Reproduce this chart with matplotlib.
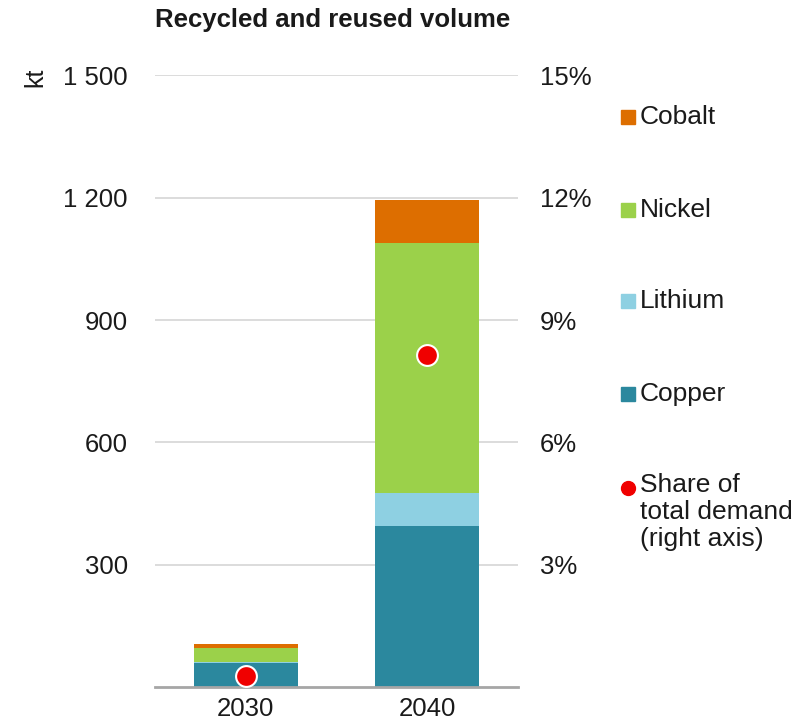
"""Recycled and reused volume — stacked bars with share of total demand on right axis."""
import numpy as np
import matplotlib
matplotlib.use("Agg")
import matplotlib.pyplot as plt
from matplotlib.patches import Rectangle
from matplotlib.lines import Line2D

plt.rcParams["font.family"] = ["Liberation Sans", "DejaVu Sans"]

years = ["2030", "2040"]
copper = [59, 395]
lithium = [2, 82]
nickel = [35, 611]
cobalt = [9, 107]
share_pct = [0.28, 8.14]

left_ticks = [300, 600, 900, 1200, 1500]
right_ticks = [3, 6, 9, 12, 15]

SERIES = [("Copper", copper, "#2b889e"), ("Lithium", lithium, "#8ed0e2"),
          ("Nickel", nickel, "#9bd14a"), ("Cobalt", cobalt, "#dd6e00")]
RED = "#f00000"
TXT = "#1a1a1a"

fig = plt.figure(figsize=(8.07, 7.24), dpi=100)
ax = fig.add_axes([0.192, 0.051, 0.450, 0.845])

x = np.arange(len(years))
bottom = np.zeros(len(years))
for name, vals, col in SERIES:
    ax.bar(x, vals, width=0.573, bottom=bottom, color=col, edgecolor="none", zorder=3)
    bottom += np.array(vals)

ax.set_xlim(-0.5, 1.5)
ax.set_ylim(0, 1500)
ax.set_yticks(left_ticks)
ax.set_yticklabels([f"{v:,}".replace(",", " ") for v in left_ticks])
ax.set_xticks(x)
ax.set_xticklabels(years)
ax.grid(axis="y", color="#d9d9d9", linewidth=1.3, zorder=0)
for s in ["top", "right", "left"]:
    ax.spines[s].set_visible(False)
ax.spines["bottom"].set_color("#a6a6a6")
ax.spines["bottom"].set_linewidth(2)
ax.spines["bottom"].set_zorder(4)
ax.tick_params(axis="both", length=0, labelsize=18.5, colors=TXT)
ax.tick_params(axis="y", pad=19.5)
ax.tick_params(axis="x", pad=7.5)

ax2 = ax.twinx()
ax2.set_ylim(0, 15)
ax2.set_yticks(right_ticks)
ax2.set_yticklabels([f"{v}%" for v in right_ticks])
ax2.tick_params(axis="y", length=0, labelsize=18.5, colors=TXT, pad=15.5)
for s in ax2.spines.values():
    s.set_visible(False)
ax2.plot(x, share_pct, linestyle="none", marker="o", markersize=15,
         markerfacecolor=RED, markeredgecolor="white", markeredgewidth=1.5, zorder=5)

fig.text(0.412, 0.972, "Recycled and reused volume", ha="center", va="center",
         fontsize=18.5, fontweight="bold", color=TXT)
fig.text(0.044, 0.893, "kt", rotation=90, ha="center", va="center", fontsize=18, color=TXT)

# legend drawn by hand to match spacing
legend_items = [("Cobalt", "#dd6e00", 117), ("Nickel", "#9bd14a", 210),
                ("Lithium", "#8ed0e2", 301), ("Copper", "#2b889e", 394)]
W, H = 807, 724
for label, col, py in legend_items:
    fig.patches.append(Rectangle((621 / W, 1 - (py + 7) / H), 14 / W, 14 / H,
                                 transform=fig.transFigure, color=col, zorder=5))
    fig.text(640 / W, 1 - py / H, label, ha="left", va="center", fontsize=19, color=TXT)
fig.lines.append(Line2D([628 / W], [1 - 488 / H], transform=fig.transFigure,
                        marker="o", markersize=10, color=RED, linestyle="none"))
fig.text(640 / W, 1 - 473 / H, "Share of\ntotal demand\n(right axis)", ha="left", va="top",
         fontsize=19, color=TXT, linespacing=1.17)

fig.savefig("out.png", dpi=100)
